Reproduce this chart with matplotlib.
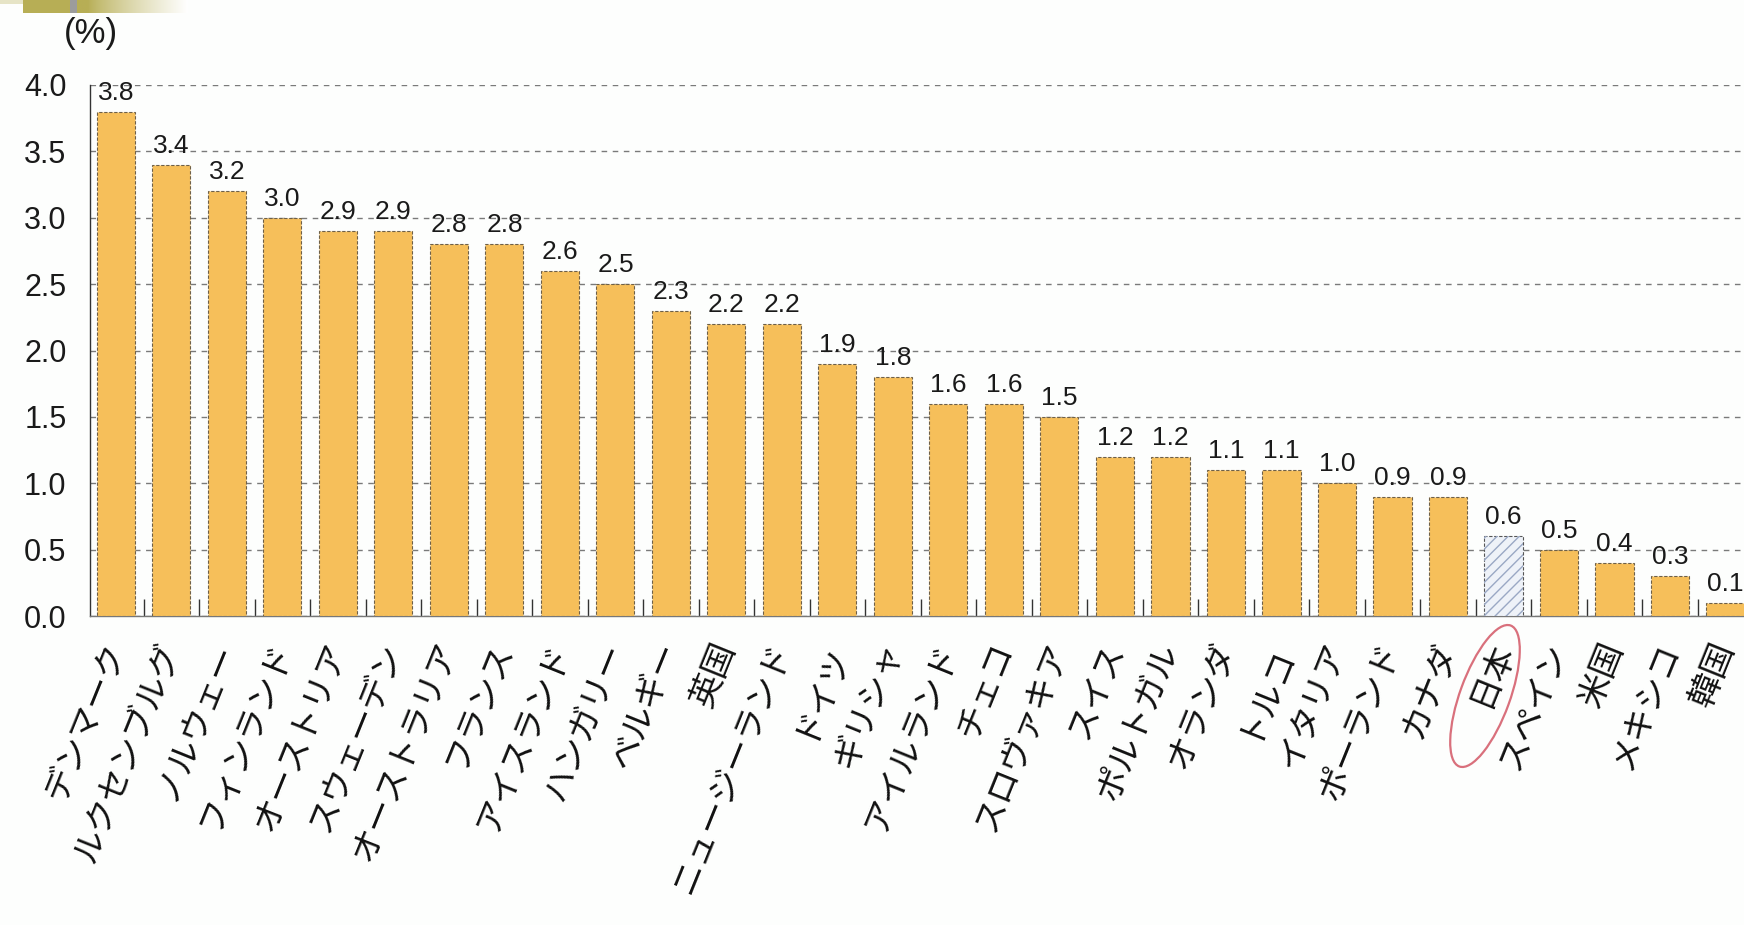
import numpy as np
import matplotlib
matplotlib.use("Agg")
import matplotlib.pyplot as plt
from matplotlib.patches import Ellipse, Rectangle
from matplotlib.transforms import ScaledTranslation

countries = ["デンマーク", "ルクセンブルグ", "ノルウェー", "フィンランド", "オーストリア",
             "スウェーデン", "オーストラリア", "フランス", "アイスランド", "ハンガリー",
             "ベルギー", "英国", "ニュージーランド", "ドイツ", "ギリシャ",
             "アイルランド", "チェコ", "スロヴァキア", "スイス", "ポルトガル",
             "オランダ", "トルコ", "イタリア", "ポーランド", "カナダ",
             "日本", "スペイン", "米国", "メキシコ", "韓国"]
values = [3.8, 3.4, 3.2, 3.0, 2.9,
          2.9, 2.8, 2.8, 2.6, 2.5,
          2.3, 2.2, 2.2, 1.9, 1.8,
          1.6, 1.6, 1.5, 1.2, 1.2,
          1.1, 1.1, 1.0, 0.9, 0.9,
          0.6, 0.5, 0.4, 0.3, 0.1]
highlight = "日本"
yticks = [0.0, 0.5, 1.0, 1.5, 2.0, 2.5, 3.0, 3.5, 4.0]
unit_label = "(%)"

W, H = 1744, 925
fig = plt.figure(figsize=(W / 100, H / 100), dpi=100)
fig.patch.set_facecolor("#FDFEFD")

# top decoration (slide template strip)
fig.add_artist(Rectangle((0, 1 - 4 / H), 55 / W, 4 / H, transform=fig.transFigure,
                         facecolor="#E6E4C6", edgecolor="none"))
fig.add_artist(Rectangle((23 / W, 1 - 13 / H), 47 / W, 13 / H, transform=fig.transFigure,
                         facecolor="#B7AE55", edgecolor="none"))
fig.add_artist(Rectangle((70 / W, 1 - 13 / H), 7 / W, 13 / H, transform=fig.transFigure,
                         facecolor="#9C9C9C", edgecolor="none"))
gax = fig.add_axes([77 / W, 1 - 13 / H, 110 / W, 13 / H])
grad = np.linspace(0, 1, 256)
base = np.array([0xB7, 0xAE, 0x55]) / 255.0
white = np.array([1.0, 1.0, 1.0])
alpha = np.clip((grad - 0.1) / 0.9, 0, 1) ** 0.8
img = (base[None, :] * (1 - alpha[:, None]) + white[None, :] * alpha[:, None])[None, :, :]
gax.imshow(img, aspect="auto", extent=[0, 1, 0, 1])
gax.axis("off")

ax = fig.add_axes([90 / W, 1 - 616 / H, 1 - 90 / W, (616 - 85) / H])
ax.set_facecolor("none")

x = np.arange(len(countries))
bar_w = 0.685
bar_color = "#F6BF5A"
colors = [("#EEF2F8" if c == highlight else bar_color) for c in countries]

bars = ax.bar(x, values, width=bar_w, color=colors, edgecolor="#6E6048",
              linewidth=0.8, zorder=3)
plt.rcParams["hatch.linewidth"] = 1.0
for b, c in zip(bars, countries):
    b.set_linestyle((0, (3, 1.5)))
    if c == highlight:
        b.set_edgecolor("#555555")
        ax.bar(b.get_x() + b.get_width() / 2, b.get_height(), width=bar_w,
               color="none", edgecolor="#9AA8C4", hatch="///", linewidth=0,
               zorder=3.5)

for xi, v in zip(x, values):
    ax.annotate(f"{v:.1f}", (xi, v), xytext=(0, 5), textcoords="offset points",
                ha="center", va="bottom", fontsize=19, family="Liberation Sans",
                color="#1a1a1a", zorder=5)

ax.set_xlim(-0.468, (W - 116) / 55.5)
ax.set_ylim(0, 4.0)
ax.set_yticks(yticks)
ax.set_yticklabels([f"{t:.1f}" for t in yticks], fontsize=22, family="Liberation Sans",
                   color="#1a1a1a")
ax.tick_params(axis="y", length=0, pad=17)
ax.yaxis.grid(True, linestyle=(0, (4, 4)), color="#7A7A7A", linewidth=1.0, zorder=0)
ax.set_axisbelow(True)

ax.set_xticks(x)
ax.set_xticklabels(countries, rotation=68, ha="right", va="center",
                   rotation_mode="anchor", fontsize=24,
                   family=["Noto Sans CJK JP", "DejaVu Sans"], color="#111111")
ax.tick_params(axis="x", which="major", length=0, pad=20)
ax.set_xticks(x[:-1] + 0.5, minor=True)
ax.tick_params(axis="x", which="minor", direction="in", length=12, width=1.0,
               color="#333333")

for s in ["top", "right"]:
    ax.spines[s].set_visible(False)
ax.spines["left"].set_color("#333333")
ax.spines["left"].set_linewidth(1.0)
ax.spines["bottom"].set_color("#777777")
ax.spines["bottom"].set_linewidth(1.0)

fig.text(91 / W, 1 - 34 / H, unit_label, ha="center", va="center", fontsize=25,
         family="Liberation Sans", color="#1a1a1a")

# red ellipse around the highlighted label
hi = countries.index(highlight)
tr = fig.dpi_scale_trans + ScaledTranslation(hi, 0, ax.transData)
ell = Ellipse((-0.185, -0.80), 1.50, 0.50, angle=70, transform=tr,
              facecolor="none", edgecolor="#D9707C", linewidth=1.6, zorder=10)
fig.add_artist(ell)

fig.savefig("out.png", dpi=100, facecolor=fig.get_facecolor())
